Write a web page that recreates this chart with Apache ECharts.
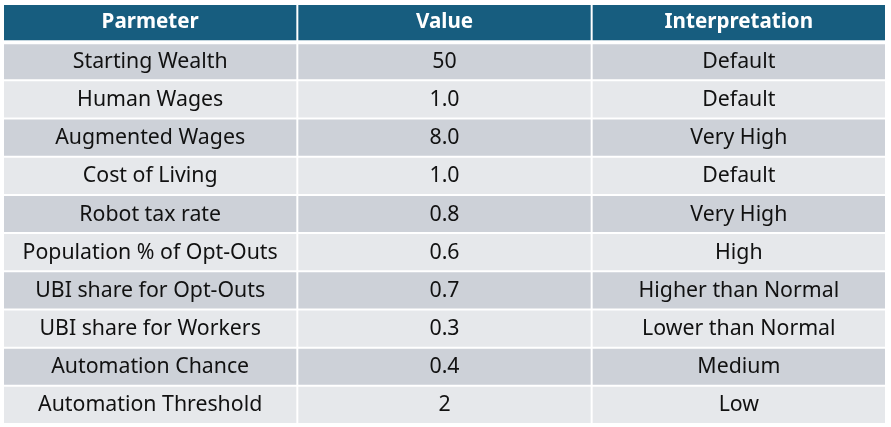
<!DOCTYPE html>
<html>
<head>
<meta charset="utf-8">
<script src="https://cdn.jsdelivr.net/npm/echarts@6/dist/echarts.min.js"></script>
<style>
html,body{margin:0;padding:0;background:#fff;}
#c{width:891px;height:427px;}
</style>
</head>
<body>
<div id="c"></div>
<script>
var headers = ['Parmeter', 'Value', 'Interpretation'];
var parameters = ['Starting Wealth', 'Human Wages', 'Augmented Wages', 'Cost of Living', 'Robot tax rate',
  'Population % of Opt-Outs', 'UBI share for Opt-Outs', 'UBI share for Workers', 'Automation Chance', 'Automation Threshold'];
var values = ['50', '1.0', '8.0', '1.0', '0.8', '0.6', '0.7', '0.3', '0.4', '2'];
var interpretations = ['Default', 'Default', 'Very High', 'Default', 'Very High', 'High',
  'Higher than Normal', 'Lower than Normal', 'Medium', 'Low'];

var HEADER_ROW = -1;
var cells = [];
headers.forEach(function (h, c) { cells.push({ value: [c, -1], text: h, header: true }); });
parameters.forEach(function (p, r) {
  cells.push({ value: [0, r], text: p, header: false });
  cells.push({ value: [1, r], text: values[r], header: false });
  cells.push({ value: [2, r], text: interpretations[r], header: false });
});

var FONT = '"Noto Sans", sans-serif';
var chart = echarts.init(document.getElementById('c'));
chart.setOption({
  animation: false,
  grid: { left: 3, right: 5, top: 4, bottom: 3 },
  xAxis: { type: 'category', data: headers, show: false },
  yAxis: { type: 'value', min: HEADER_ROW, max: 10, inverse: true, show: false },
  series: [{
    type: 'custom',
    data: cells.map(function (d) { return d.value; }),
    renderItem: function (params, api) {
      var d = cells[params.dataIndex];
      var col = api.value(0), row = api.value(1);
      var top = api.coord([col, row])[1];
      var bottom = api.coord([col, row + 1])[1];
      var cx = api.coord([col, 0])[0];
      var w = api.size([1, 0])[0];
      var x0 = cx - w / 2 + 1, x1 = cx + w / 2 - 1;
      var y0 = top + (row === 0 ? 2 : 1), y1 = bottom - (row < 0 ? 2 : 1);
      var fill = d.header ? '#175d7f' : (row % 2 === 0 ? '#cdd1d8' : '#e6e8eb');
      return {
        type: 'group',
        children: [{
          type: 'rect',
          shape: { x: x0, y: y0, width: x1 - x0, height: y1 - y0 },
          style: { fill: fill }
        }, {
          type: 'text',
          x: cx, y: (y0 + y1) / 2 + (d.header ? 0 : 0.5),
          style: {
            text: d.text,
            align: 'center', verticalAlign: 'middle',
            fill: d.header ? '#ffffff' : '#111111',
            font: d.header ? ('bold 20.6px ' + FONT) : ('21.3px ' + FONT)
          }
        }]
      };
    }
  }]
});
</script>
</body>
</html>
